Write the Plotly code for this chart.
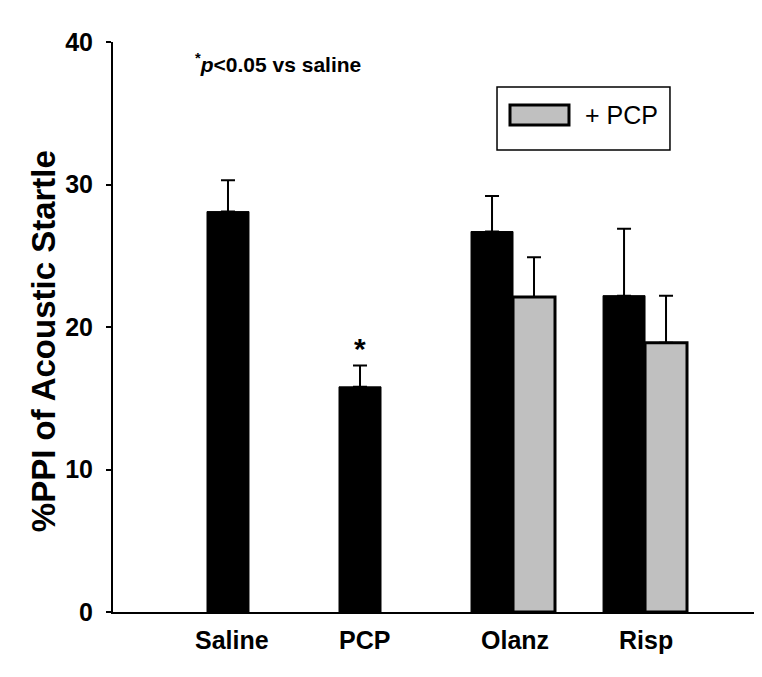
import plotly.graph_objects as go

# data
groups = ["Saline", "PCP", "Olanz", "Risp"]
drug_vals = [28.1, 15.8, 26.7, 22.2]
drug_err = [2.2, 1.5, 2.5, 4.7]
pcp_vals = [None, None, 22.1, 18.9]
pcp_err = [0, 0, 2.8, 3.3]
label_shift = [-17, -17, 2, 1]
y_ticks = [0, 10, 20, 30, 40]

FONT = "Liberation Sans, Arial, sans-serif"

fig = go.Figure()

fig.add_trace(go.Bar(
    x=groups, y=drug_vals, name="drug",
    marker=dict(color="black", line=dict(color="black", width=1)),
    error_y=dict(type="data", array=drug_err, arrayminus=[0] * 4, symmetric=False,
                 color="black", thickness=2, width=7),
    showlegend=False,
))
fig.add_trace(go.Bar(
    x=groups, y=pcp_vals, name="+ PCP",
    marker=dict(color="#c0c0c0", line=dict(color="black", width=3)),
    error_y=dict(type="data", array=pcp_err, arrayminus=[0] * 4, symmetric=False,
                 color="black", thickness=2, width=7),
    showlegend=False,
))

# category labels (slightly shifted like the original)
for g, dx in zip(groups, label_shift):
    fig.add_annotation(x=g, xref="x", y=-0.049, yref="paper", text=g,
                       showarrow=False, xshift=dx, yanchor="middle",
                       font=dict(family=FONT, size=25, color="black", weight="bold"))

# significance marker above PCP
fig.add_annotation(x="PCP", y=drug_vals[1] + drug_err[1] + 1.2, text="*",
                   showarrow=False, xshift=-21, yanchor="middle",
                   font=dict(family=FONT, size=30, color="black", weight="bold"))

fig.add_annotation(x=0.123, y=0.963, xref="paper", yref="paper",
                   xanchor="left", yanchor="middle", showarrow=False,
                   text="<sup>*</sup><i>p</i>&lt;0.05 vs saline",
                   font=dict(family=FONT, size=21, color="black", weight="bold"))

# y axis title
fig.add_annotation(x=-0.108, y=0.475, xref="paper", yref="paper",
                   text="%PPI of Acoustic Startle", textangle=-90,
                   showarrow=False, xanchor="center", yanchor="middle",
                   font=dict(family=FONT, size=33, color="black", weight="bold"))

# legend box drawn by hand to get the large swatch
fig.add_shape(type="rect", xref="paper", yref="paper",
              x0=0.5917, x1=0.8582, y0=0.8105, y1=0.921,
              line=dict(color="black", width=1.5), fillcolor="white")
fig.add_shape(type="rect", xref="paper", yref="paper",
              x0=0.6117, x1=0.7026, y0=0.8544, y1=0.8895,
              line=dict(color="black", width=3), fillcolor="#c0c0c0")
fig.add_annotation(x=0.7242, y=0.8719, xref="paper", yref="paper",
                   text="+ PCP", showarrow=False, xanchor="left", yanchor="middle",
                   font=dict(family=FONT, size=25, color="black"))

# page body adds an 8px margin, so the figure is trimmed by that amount
fig.update_layout(
    width=754, height=669,
    margin=dict(l=105, r=0, t=34, b=65),
    barmode="group", bargap=0.364, bargroupgap=0,
    plot_bgcolor="white", paper_bgcolor="white",
    font=dict(family=FONT, color="black"),
)
fig.update_xaxes(range=[-1.03, 3.886], showline=True, linecolor="black", linewidth=2,
                 showgrid=False, zeroline=False, ticks="", showticklabels=False)
fig.update_yaxes(range=[0, 40], tickvals=y_ticks, showline=True, linecolor="black",
                 linewidth=2, showgrid=False, zeroline=False, ticks="outside",
                 ticklen=5, tickwidth=2, tickcolor="black", ticklabelstandoff=8,
                 tickfont=dict(family=FONT, size=25, color="black", weight="bold"))

fig.write_html("out.html")
